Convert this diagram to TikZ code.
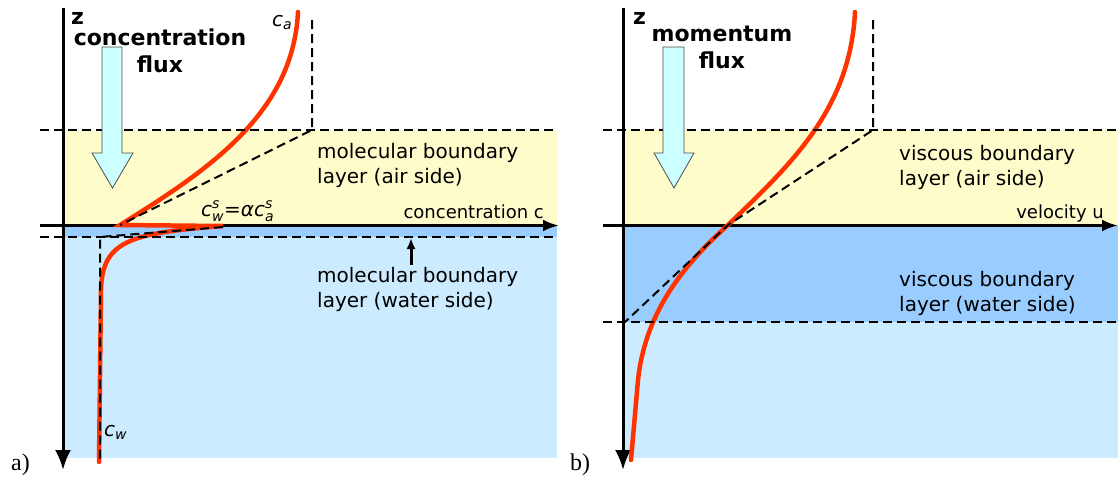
\documentclass[tikz,border=0pt]{standalone}
\usepackage{amsmath}
\usepackage{fontspec}
\setmainfont{DejaVu Sans}
\newfontfamily\panelfont{Liberation Serif}
\usepackage{tikz}
\usetikzlibrary{arrows.meta}
\definecolor{GYellow}{RGB}{255,252,204}
\definecolor{GDeepBlue}{RGB}{153,204,255}
\definecolor{GPaleBlue}{RGB}{204,235,255}
\definecolor{GRed}{RGB}{255,51,0}
\definecolor{GCyan}{RGB}{204,255,255}
\tikzset{
  zaxis/.style={line width=3pt,-{Latex[length=20pt,width=16pt]}},
  haxis/.style={line width=3pt,-{Latex[length=16pt,width=12pt]}},
  profile/.style={draw=GRed,line width=4.5pt,line cap=round},
  guide/.style={dash pattern=on 9pt off 5pt,line width=2pt},
  fluxarrow/.style={fill=GCyan,draw=black!70,line width=0.8pt},
  layerlabel/.style={font=\fontsize{20}{25}\selectfont,align=left,anchor=base west,inner sep=0pt},
  fluxlabel/.style={font=\bfseries\fontsize{22}{27}\selectfont,align=center,anchor=base,inner sep=0pt},
  zlabel/.style={font=\bfseries\fontsize{22}{24}\selectfont,anchor=base west,inner sep=0pt},
  axislabel/.style={font=\fontsize{18}{21}\selectfont,anchor=base east,inner sep=0pt},
  symlabel/.style={font=\fontsize{20}{23}\selectfont,anchor=base west,inner sep=0pt},
  panellabel/.style={font=\panelfont\fontsize{24}{28}\selectfont,anchor=base west,inner sep=0pt}
}

\begin{document}
\begin{tikzpicture}[x=1pt,y=-1pt]
  \useasboundingbox (0,0) rectangle (1118,477);

  % a) concentration
  \fill[GYellow] (63,130) rectangle (557,225);
  \fill[GDeepBlue] (63,225) rectangle (557,237);
  \fill[GPaleBlue] (63,237) rectangle (557,458);

  \draw[zaxis] (63,8) -- (63,470);
  \draw[haxis] (40,225.5) -- (559,225.5);

  \draw[profile] (298,12) .. controls (293,115) and (205,172) .. (120,225)
    -- (223,226) .. controls (132,233) and (102,240) .. (101,290) -- (99,462);

  \draw[guide] (40,130) -- (557,130);
  \draw[guide] (40,237) -- (557,237);
  \draw[guide] (312,20) -- (312,130) -- (120,225);
  \draw[guide] (223,227) -- (100,237) -- (100,460);

  \draw[fluxarrow] (102,47) -- (122,47) -- (122,153) -- (133,153) -- (112.5,188)
    -- (92,153) -- (102,153) -- cycle;

  \node[zlabel] (za) at (71,24) {z};
  \node[fluxlabel] (fluxa) at (160,72) {concentration\\flux};
  \node[symlabel] (ca) at (272,26) {\itshape c\textsubscript{a}};
  \node[symlabel] (cw) at (104,436) {\itshape c\textsubscript{w}};
  \node[symlabel] (cs) at (201,216)
    {{\itshape c}$^{\textit{s}}_{\textit{w}}$={\itshape αc}$^{\textit{s}}_{\textit{a}}$};
  \node[axislabel] (conc) at (544,218) {concentration c};
  \node[layerlabel] (aira) at (317,183) {molecular boundary\\layer (air side)};
  \node[layerlabel] (watera) at (317,307) {molecular boundary\\layer (water side)};
  \coordinate (wtop) at (411,238);
  \draw[line width=3pt,-{Latex[length=11pt,width=9pt]}] (wtop |- watera.north) ++(0,-2) -- (wtop);
  \node[panellabel] (pa) at (11,470) {a)};

  % b) momentum
  \fill[GYellow] (623,130) rectangle (1118,225);
  \fill[GDeepBlue] (623,225) rectangle (1118,322);
  \fill[GPaleBlue] (623,322) rectangle (1118,458);

  \draw[zaxis] (623,8) -- (623,470);
  \draw[haxis] (603,225.5) -- (1118,225.5);

  \draw[profile] (855,12) .. controls (850,110) and (790,165) .. (728,225)
    .. controls (680,268) and (645,315) .. (638,380) -- (631,460);

  \draw[guide] (603,130) -- (1118,130);
  \draw[guide] (603,322) -- (1118,322);
  \draw[guide] (873,20) -- (873,130) -- (728,225) -- (625,322);

  \draw[fluxarrow] (663,47) -- (684,47) -- (684,153) -- (694,153) -- (674,188)
    -- (654,153) -- (663,153) -- cycle;

  \node[zlabel] (zb) at (633,24) {z};
  \node[fluxlabel] (fluxb) at (722,68) {momentum\\flux};
  \node[axislabel] (velo) at (1104,218) {velocity u};
  \node[layerlabel] (airb) at (899,185) {viscous boundary\\layer (air side)};
  \node[layerlabel] (waterb) at (899,311) {viscous boundary\\layer (water side)};
  \node[panellabel] (pb) at (570,470) {b)};
\end{tikzpicture}
\end{document}
